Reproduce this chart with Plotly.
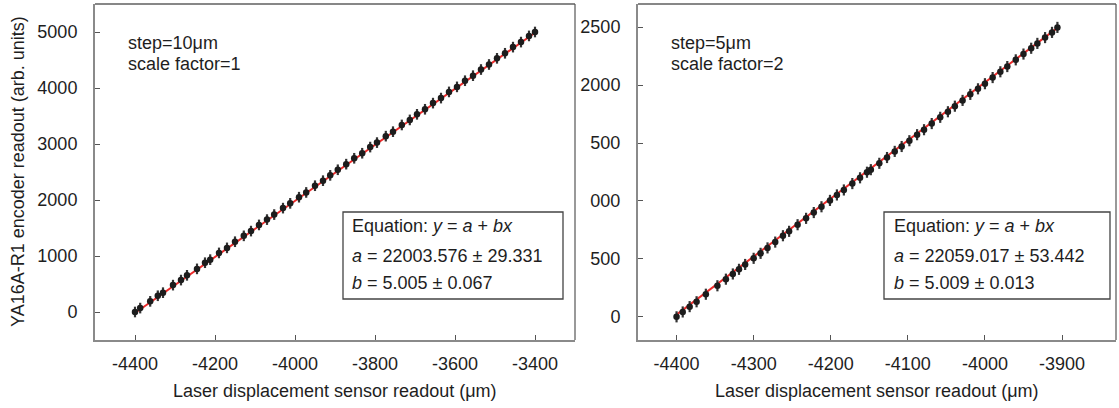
import plotly.graph_objects as go

# ---------------- data ----------------
left_x = [-4400, -4387, -4362, -4343, -4330, -4305, -4285, -4270, -4245, -4225,
          -4212, -4190, -4170, -4150, -4128, -4110, -4090, -4070, -4052, -4030,
          -4012, -3990, -3972, -3950, -3930, -3912, -3893, -3872, -3852, -3832,
          -3812, -3795, -3773, -3755, -3733, -3713, -3695, -3675, -3655, -3635,
          -3615, -3595, -3575, -3555, -3535, -3515, -3495, -3475, -3455, -3435,
          -3415, -3400]
left_y = [0, 70, 190, 290, 345, 480, 570, 655, 770, 880,
          935, 1055, 1145, 1255, 1360, 1445, 1555, 1650, 1740, 1855,
          1940, 2050, 2135, 2255, 2345, 2440, 2540, 2640, 2745, 2835,
          2945, 3025, 3140, 3220, 3340, 3430, 3530, 3620, 3730, 3820,
          3930, 4020, 4130, 4220, 4330, 4420, 4530, 4620, 4730, 4820,
          4930, 5000]
left_err = 95

right_x = [-4400, -4392, -4383, -4374, -4362, -4347, -4336, -4327, -4319, -4311,
           -4300, -4291, -4282, -4272, -4262, -4254, -4243, -4232, -4222, -4212,
           -4201, -4192, -4183, -4172, -4162, -4153, -4148, -4137, -4127, -4117,
           -4108, -4098, -4088, -4079, -4069, -4058, -4048, -4039, -4029, -4019,
           -4009, -4000, -3990, -3980, -3971, -3960, -3950, -3940, -3932, -3922,
           -3913, -3906]
right_y = [0, 42, 88, 130, 195, 268, 325, 370, 410, 452,
           505, 548, 595, 645, 700, 738, 795, 850, 900, 950,
           1005, 1052, 1095, 1150, 1200, 1248, 1270, 1325, 1375, 1428,
           1470, 1520, 1572, 1615, 1668, 1722, 1770, 1818, 1868, 1920,
           1968, 2012, 2065, 2115, 2160, 2218, 2268, 2318, 2360, 2410,
           2455, 2498]
right_err = 48

left_fit_x = [-4400, -3400]
left_fit_y = [-18.4, 4986.6]
right_fit_x = [-4400, -3906]
right_fit_y = [19.4, 2494.0]

left_xticks = [-4400, -4200, -4000, -3800, -3600, -3400]
left_xtick_text = ["-4400", "-4200", "-4000", "-3800", "-3600", "-3400"]
left_yticks = [0, 1000, 2000, 3000, 4000, 5000]
right_xticks = [-4400, -4300, -4200, -4100, -4000, -3900]
right_xtick_text = ["-4400", "-4300", "-4200", "-4100", "-4000", "-3900"]
right_yticks = [0, 500, 1000, 1500, 2000, 2500]
right_ytick_text = ["0", "500", "000", "500", "2000", "2500"]

W, H = 1119, 408
FONT = "Liberation Sans, Arial, sans-serif"
TXT = "#1e1e1e"
MARK = "#1c1c1c"
RED = "#ec2a2a"
FS = 18

fig = go.Figure()

def add_panel(xs, ys, err, fx, fy, xa, ya):
    fig.add_trace(go.Scatter(x=fx, y=fy, mode="lines", xaxis=xa, yaxis=ya,
                             line=dict(color=RED, width=2), showlegend=False,
                             hoverinfo="skip"))
    fig.add_trace(go.Scatter(x=xs, y=ys, mode="markers", xaxis=xa, yaxis=ya,
                             marker=dict(color=MARK, size=6.5),
                             error_y=dict(type="constant", value=err, color="#333333",
                                          thickness=2.2, width=0),
                             showlegend=False))

add_panel(left_x, left_y, left_err, left_fit_x, left_fit_y, "x", "y")
add_panel(right_x, right_y, right_err, right_fit_x, right_fit_y, "x2", "y2")

# pixel geometry
L1, R1 = 95, 575
L2, R2 = 638, 1116
TOP, BOT = 4, 340
px = lambda v: v / W
py = lambda v: 1 - v / H

axis_common = dict(showgrid=False, zeroline=False, showline=True, linecolor="#8a8a8a",
                   linewidth=2, mirror=False, ticks="inside", ticklen=5,
                   tickcolor="#555", tickwidth=1,
                   tickfont=dict(family=FONT, size=FS, color=TXT))

fig.update_layout(
    width=W, height=H, margin=dict(l=0, r=0, t=0, b=0),
    paper_bgcolor="white", plot_bgcolor="white",
    xaxis=dict(domain=[px(L1), px(R1)], range=[-4500, -3300], anchor="y",
               tickvals=left_xticks, ticktext=left_xtick_text,
               ticklabelstandoff=6, **axis_common),
    yaxis=dict(domain=[py(BOT), py(TOP)], range=[-500, 5500], anchor="x",
               tickvals=left_yticks, ticklabelstandoff=12, **axis_common),
    xaxis2=dict(domain=[px(L2), px(R2)], range=[-4450, -3830], anchor="y2",
                tickvals=right_xticks, ticktext=right_xtick_text,
                ticklabelstandoff=6, **axis_common),
    yaxis2=dict(domain=[py(BOT), py(TOP)], range=[-200, 2700], anchor="x2",
                tickvals=right_yticks, ticktext=right_ytick_text,
                ticklabelstandoff=12, **axis_common),
)

shapes = []
for L, R in [(L1, R1), (L2, R2)]:
    shapes.append(dict(type="line", xref="paper", yref="paper", x0=px(L), x1=px(R),
                       y0=py(TOP), y1=py(TOP), line=dict(color="#111", width=1.2)))
    shapes.append(dict(type="line", xref="paper", yref="paper", x0=px(R), x1=px(R),
                       y0=py(TOP), y1=py(BOT), line=dict(color="#555", width=1.2)))
# equation boxes
for bx0, bx1 in [(343, 563), (884, 1110)]:
    shapes.append(dict(type="rect", xref="paper", yref="paper", x0=px(bx0), x1=px(bx1),
                       y0=py(299), y1=py(212), line=dict(color="#444", width=1.3),
                       fillcolor="white", layer="above"))
fig.update_layout(shapes=shapes)

ann = []
def text(x, y, s, size=FS, xanchor="left", angle=0):
    ann.append(dict(x=px(x), y=py(y), xref="paper", yref="paper", text=s,
                    showarrow=False, xanchor=xanchor, yanchor="middle",
                    textangle=angle, font=dict(family=FONT, size=size, color=TXT)))

text(126, 43, "step=10μm")
text(126, 64, "scale factor=1")
text(669, 43, "step=5μm")
text(669, 64, "scale factor=2")

eq_lines_left = ["Equation: <i>y</i> = <i>a</i> + <i>bx</i>",
                 "<i>a</i> = 22003.576 ± 29.331",
                 "<i>b</i> = 5.005 ± 0.067"]
eq_lines_right = ["Equation: <i>y</i> = <i>a</i> + <i>bx</i>",
                  "<i>a</i> = 22059.017 ± 53.442",
                  "<i>b</i> = 5.009 ± 0.013"]
for x0, lines in [(350, eq_lines_left), (892, eq_lines_right)]:
    for yy, s in zip([226, 256, 283], lines):
        text(x0, yy, s)

text(335, 391, "Laser displacement sensor readout (μm)", xanchor="center")
text(877, 391, "Laser displacement sensor readout (μm)", xanchor="center")
text(18, 172, "YA16A-R1 encoder readout (arb. units)", xanchor="center", angle=-90)

fig.update_layout(annotations=ann)
fig.write_html("out.html")
